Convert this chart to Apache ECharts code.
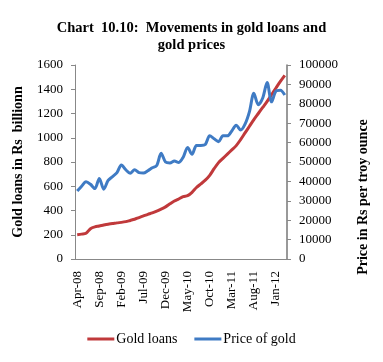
<!DOCTYPE html>
<html><head><meta charset="utf-8">
<script src="https://cdn.jsdelivr.net/npm/echarts@6/dist/echarts.min.js"></script>
<style>html,body{margin:0;padding:0;background:#fff}#c{width:383px;height:362px}</style>
</head><body><div id="c"></div>
<script>
const months = ['Apr-08','May-08','Jun-08','Jul-08','Aug-08','Sep-08','Oct-08','Nov-08','Dec-08','Jan-09','Feb-09','Mar-09',
'Apr-09','May-09','Jun-09','Jul-09','Aug-09','Sep-09','Oct-09','Nov-09','Dec-09','Jan-10','Feb-10','Mar-10',
'Apr-10','May-10','Jun-10','Jul-10','Aug-10','Sep-10','Oct-10','Nov-10','Dec-10','Jan-11','Feb-11','Mar-11',
'Apr-11','May-11','Jun-11','Jul-11','Aug-11','Sep-11','Oct-11','Nov-11','Dec-11','Jan-12','Feb-12','Mar-12'];
const goldLoans = [200,205,212,250,265,272,280,287,292,298,302,308,
318,328,342,355,368,380,395,412,430,455,478,495,
515,522,550,590,620,650,690,745,795,830,865,900,
935,985,1040,1095,1150,1200,1250,1300,1355,1410,1465,1515];
const goldPrice = [35000,37500,39800,38500,36300,41500,36000,40500,42500,44500,48500,46000,
44200,46000,44500,44300,45500,47000,48200,54500,50000,49500,50500,49800,
52500,57500,54000,58500,58500,59000,63500,62000,60500,63500,63500,66000,
69000,66500,69500,76000,85500,79500,83000,91000,81000,86500,87000,84500];
const leftTicks = {min:0,max:1600,interval:200};
const rightTicks = {min:0,max:100000,interval:10000};

const serif = 'Liberation Serif';
const plain = v => String(v);
const chart = echarts.init(document.getElementById('c'));
chart.setOption({
  animation:false,
  title:{text:'Chart  10.10:  Movements in gold loans and\ngold prices',left:'center',top:15,
    textStyle:{fontFamily:serif,fontWeight:'bold',fontSize:14.5,lineHeight:17,color:'#000'}},
  legend:{bottom:11,left:'center',icon:'rect',itemWidth:27,itemHeight:3,itemGap:17,
    textStyle:{fontFamily:serif,fontSize:14,color:'#000',padding:[0,0,0,-3]},
    data:['Gold loans','Price of gold']},
  grid:{left:75,right:96,top:65,bottom:103},
  xAxis:{type:'category',data:months,boundaryGap:true,
    axisLine:{lineStyle:{color:'#888'}},
    axisTick:{interval:4,length:4,lineStyle:{color:'#888'}},
    axisLabel:{interval:4,rotate:90,margin:12,fontFamily:serif,fontSize:13,color:'#000'}},
  yAxis:[{type:'value',min:leftTicks.min,max:leftTicks.max,interval:leftTicks.interval,
    name:'Gold loans in Rs  billionn',nameLocation:'middle',nameGap:50,nameRotate:90,
    nameTextStyle:{fontFamily:serif,fontWeight:'bold',fontSize:14,color:'#000'},
    axisLine:{show:true,lineStyle:{color:'#888'}},axisTick:{show:true,length:4,lineStyle:{color:'#888'}},
    splitLine:{show:false},axisLabel:{margin:12,fontFamily:serif,fontSize:13,color:'#000',formatter:plain}},
   {type:'value',min:rightTicks.min,max:rightTicks.max,interval:rightTicks.interval,position:'right',
    name:'Price in Rs per troy ounce',nameLocation:'middle',nameGap:69,nameRotate:90,
    nameTextStyle:{fontFamily:serif,fontWeight:'bold',fontSize:14,color:'#000',padding:[0,70,0,0]},
    axisLine:{show:true,lineStyle:{color:'#777',width:1.5}},axisTick:{show:true,length:4,lineStyle:{color:'#888'}},
    splitLine:{show:false},axisLabel:{margin:12,fontFamily:serif,fontSize:13,color:'#000',formatter:plain}}],
  series:[
    {name:'Gold loans',type:'line',yAxisIndex:0,data:goldLoans,symbol:'none',smooth:0.3,
      lineStyle:{color:'#C0393B',width:3},itemStyle:{color:'#C0393B'}},
    {name:'Price of gold',type:'line',yAxisIndex:1,data:goldPrice,symbol:'none',smooth:0.3,
      lineStyle:{color:'#3F7BC4',width:3},itemStyle:{color:'#3F7BC4'}}
  ]
});
</script></body></html>
